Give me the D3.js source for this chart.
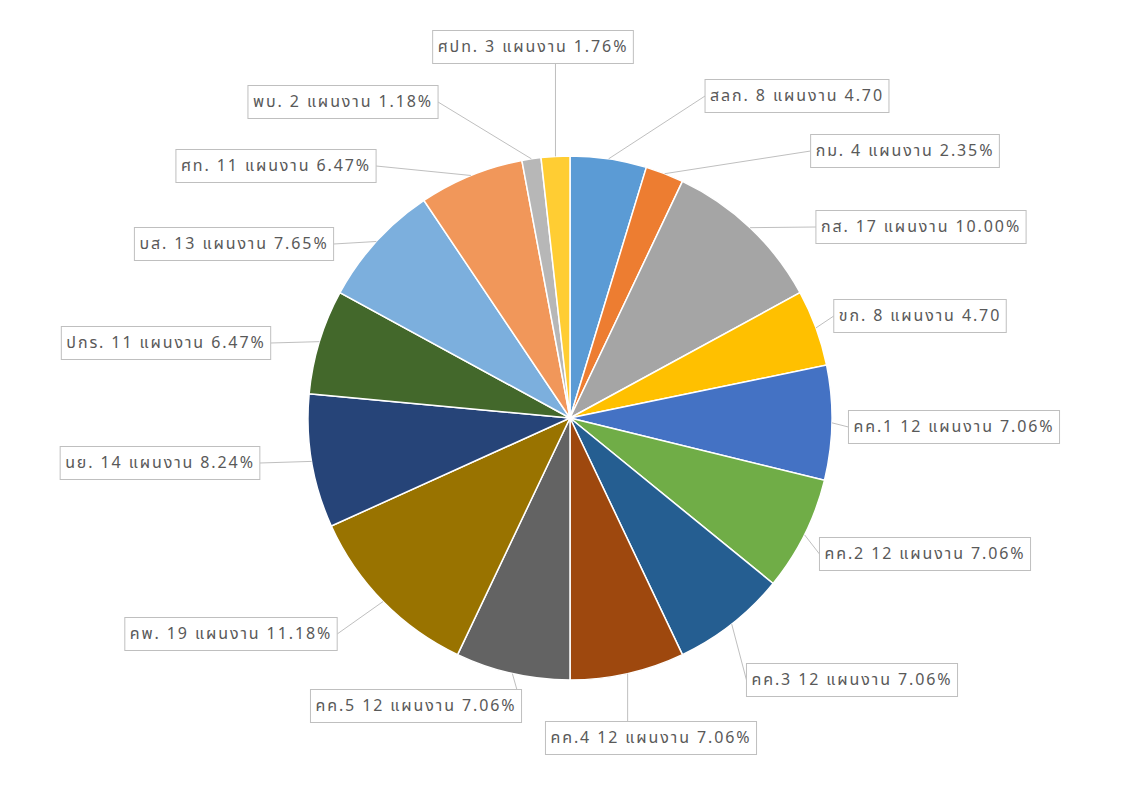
<!DOCTYPE html>
<html>
<head>
<meta charset="utf-8">
<script src="https://cdn.jsdelivr.net/npm/d3@7.9.0/dist/d3.min.js"></script>
<style>
    body { margin: 0; background: #fff; }
    svg text { font-family: Tahoma, "Noto Sans Thai", "Noto Sans", "DejaVu Sans", sans-serif; }
</style>
</head>
<body>
<div id="chart"></div>
<script>
// slices, clockwise from 12 o'clock
const names = ['สลก.', 'กม.', 'กส.', 'ขก.', 'คค.1', 'คค.2', 'คค.3', 'คค.4', 'คค.5',
    'คพ.', 'นย.', 'ปกร.', 'บส.', 'ศท.', 'พบ.', 'ศปท.'];
const plans = [8, 4, 17, 8, 12, 12, 12, 12, 12, 19, 14, 11, 13, 11, 2, 3];
const percents = ['4.70', '2.35%', '10.00%', '4.70', '7.06%', '7.06%', '7.06%', '7.06%', '7.06%',
    '11.18%', '8.24%', '6.47%', '7.65%', '6.47%', '1.18%', '1.76%'];
const colors = ['#5B9BD5', '#ED7D31', '#A5A5A5', '#FFC000', '#4472C4', '#70AD47', '#255E91',
    '#9E480E', '#636363', '#997300', '#264478', '#43682B', '#7CAFDD', '#F1975A', '#B7B7B7', '#FFCD33'];

// label box centres (layout only)
const labelPos = [[797, 96], [905, 151], [921, 227], [920, 316], [954, 427], [925, 554],
    [852, 680], [651, 738], [416, 706], [231, 634], [160, 463], [166, 343], [234, 244],
    [276, 166], [343, 102], [533, 47]];

const width = 1121;
const height = 789;
const cx = 570;
const cy = 418;
const radius = 262;

const data = names.map((n, i) => ({
    name: n,
    plans: plans[i],
    pct: percents[i],
    color: colors[i],
    pos: labelPos[i],
}));

const svg = d3.select('#chart')
    .append('svg')
    .attr('width', width)
    .attr('height', height);

const pie = d3.pie().sort(null).value((d) => d.plans);
const arcs = pie(data);
const arc = d3.arc().innerRadius(0).outerRadius(radius);

const g = svg.append('g').attr('transform', `translate(${cx}, ${cy})`);

// leader lines first so slices sit on top
const lines = svg.append('g').attr('class', 'leaders');

g.selectAll('path')
    .data(arcs)
    .join('path')
    .attr('d', arc)
    .attr('fill', (d) => d.data.color)
    .attr('stroke', '#fff')
    .attr('stroke-width', 1.5);

const labels = svg.append('g').attr('class', 'labels');

arcs.forEach((d) => {
    const mid = (d.startAngle + d.endAngle) / 2;
    const sx = cx + radius * Math.sin(mid);
    const sy = cy - radius * Math.cos(mid);
    const [lx, ly] = d.data.pos;

    const lg = labels.append('g');
    const text = lg.append('text')
        .attr('x', lx)
        .attr('y', ly)
        .attr('text-anchor', 'middle')
        .attr('dominant-baseline', 'central')
        .attr('font-size', 16)
        .attr('letter-spacing', 1.9)
        .attr('fill', '#595959')
        .text(`${d.data.name} ${d.data.plans} แผนงาน ${d.data.pct}`);

    const w = text.node().getComputedTextLength() + 10;
    const h = 33;
    lg.insert('rect', 'text')
        .attr('x', lx - w / 2)
        .attr('y', ly - h / 2)
        .attr('width', w)
        .attr('height', h)
        .attr('fill', '#fff')
        .attr('stroke', '#BFBFBF')
        .attr('stroke-width', 1);

    // attach to the box side facing the slice
    let ex, ey;
    if (ly + h / 2 < sy - 20 && Math.abs(lx - sx) < w / 2) {
        ex = sx; ey = ly + h / 2;
    } else if (ly - h / 2 > sy + 20 && Math.abs(lx - sx) < w / 2) {
        ex = sx; ey = ly - h / 2;
    } else if (lx > sx) {
        ex = lx - w / 2; ey = ly;
    } else {
        ex = lx + w / 2; ey = ly;
    }
    lines.append('line')
        .attr('x1', sx)
        .attr('y1', sy)
        .attr('x2', ex)
        .attr('y2', ey)
        .attr('stroke', '#BFBFBF')
        .attr('stroke-width', 1);
});
</script>
</body>
</html>
